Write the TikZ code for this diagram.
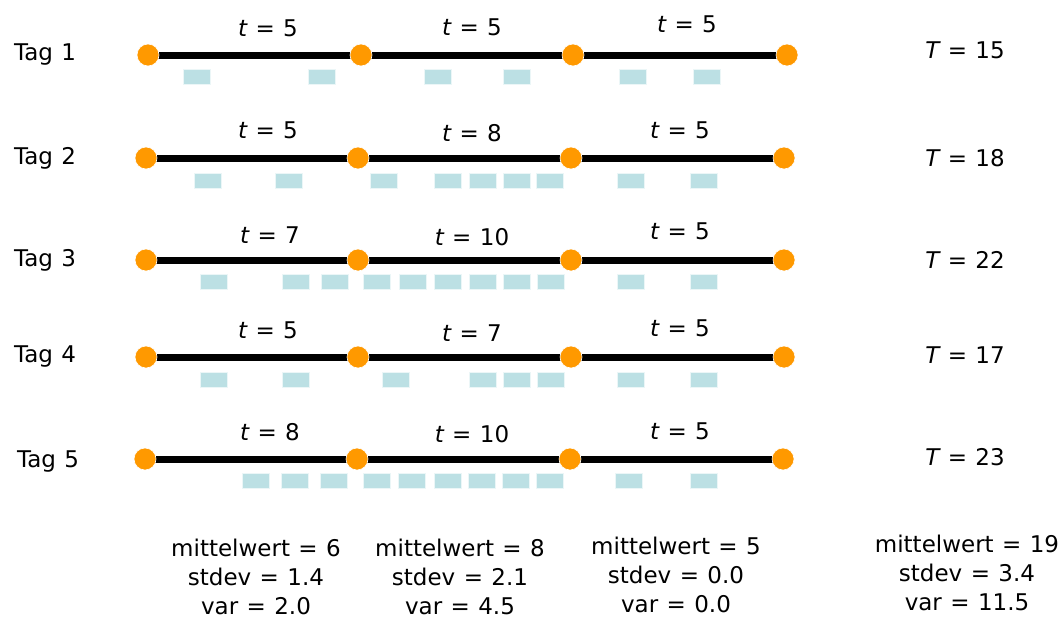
\documentclass[tikz,border=0pt]{standalone}
\usepackage{fontspec}
\setmainfont{DejaVu Sans}[WordSpace={1.15}]
\pgfdeclarelayer{bg}
\pgfsetlayers{bg,main}
\definecolor{stoporange}{HTML}{FF9900}
\definecolor{slot}{HTML}{BCE0E4}
\tikzset{
  lbl/.style={inner sep=0pt, font=\fontsize{23}{27}\selectfont},
  stats/.style={lbl, align=center, font=\fontsize{23}{29}\selectfont},
  stop/.style={circle, fill=stoporange, draw=white, line width=0.6pt, minimum size=22pt, inner sep=0pt},
  slotbox/.style={rectangle, fill=slot, draw=white!70!slot, line width=0.6pt, minimum width=27pt, minimum height=15pt, inner sep=0pt, anchor=west},
  leg/.style={line width=7pt, black}
}
% one row per day: stops, legs between them, time slots below
% #1 row id, #2 y, #3-#6 stop x positions, #7 list of slot left edges, #8 slot centre y
\newcommand{\dayrow}[8]{
  \node[stop] (s#1a) at (#3,#2) {};
  \node[stop] (s#1b) at (#4,#2) {};
  \node[stop] (s#1c) at (#5,#2) {};
  \node[stop] (s#1d) at (#6,#2) {};
  \begin{pgfonlayer}{bg}
    \draw[leg] (s#1a.center) -- (s#1b.center);
    \draw[leg] (s#1b.center) -- (s#1c.center);
    \draw[leg] (s#1c.center) -- (s#1d.center);
  \end{pgfonlayer}
  \foreach \sx [count=\k] in {#7} {
    \node[slotbox] (slot#1-\k) at (\sx,#8) {};
  }
}
\begin{document}
\begin{tikzpicture}[x=1pt, y=-1pt]
\useasboundingbox (0,0) rectangle (1062,619);

\dayrow{1}{55}{148}{361}{573}{787}{183,308,424,503,619,693}{77}
\dayrow{2}{158}{146}{358}{571}{784}{194,275,370,434,469,503,536,617,690}{181}
\dayrow{3}{260}{146}{358}{571}{784}{200,282,321,363,399,434,469,503,537,617,690}{281.5}
\dayrow{4}{357}{146}{358}{571}{784}{200,282,382,469,503,537,617,690}{379.5}
\dayrow{5}{459}{145}{357}{570}{783}{242,281,320,363,398,434,468,502,536,615,690}{481}

% day labels
\node[lbl] (tag1) at (45,55) {Tag 1};
\node[lbl] (tag2) at (45,158) {Tag 2};
\node[lbl] (tag3) at (45,260) {Tag 3};
\node[lbl] (tag4) at (45,357) {Tag 4};
\node[lbl] (tag5) at (48,461) {Tag 5};

% leg durations
\node[lbl] (t1a) at (268,28) {{\itshape t} = 5};
\node[lbl] (t1b) at (472,27) {{\itshape t} = 5};
\node[lbl] (t1c) at (687,24) {{\itshape t} = 5};
\node[lbl] (t2a) at (268,130) {{\itshape t} = 5};
\node[lbl] (t2b) at (472,133) {{\itshape t} = 8};
\node[lbl] (t2c) at (680,130) {{\itshape t} = 5};
\node[lbl] (t3a) at (270,235) {{\itshape t} = 7};
\node[lbl] (t3b) at (472,237) {{\itshape t} = 10};
\node[lbl] (t3c) at (680,231) {{\itshape t} = 5};
\node[lbl] (t4a) at (268,330) {{\itshape t} = 5};
\node[lbl] (t4b) at (472,333) {{\itshape t} = 7};
\node[lbl] (t4c) at (680,328) {{\itshape t} = 5};
\node[lbl] (t5a) at (270,432) {{\itshape t} = 8};
\node[lbl] (t5b) at (472,434) {{\itshape t} = 10};
\node[lbl] (t5c) at (680,431) {{\itshape t} = 5};

% day totals
\node[lbl] (T1) at (965,50) {{\itshape T} = 15};
\node[lbl] (T2) at (965,158) {{\itshape T} = 18};
\node[lbl] (T3) at (965,260) {{\itshape T} = 22};
\node[lbl] (T4) at (965,355) {{\itshape T} = 17};
\node[lbl] (T5) at (965,457) {{\itshape T} = 23};

% statistics per leg and for the total
\node[stats] (st1) at (256,577) {mittelwert = 6\\stdev = 1.4\\var = 2.0};
\node[stats] (st2) at (460,577) {mittelwert = 8\\stdev = 2.1\\var = 4.5};
\node[stats] (st3) at (676,575) {mittelwert = 5\\stdev = 0.0\\var = 0.0};
\node[stats] (st4) at (967,573) {mittelwert = 19\\stdev = 3.4\\var = 11.5};
\end{tikzpicture}
\end{document}
